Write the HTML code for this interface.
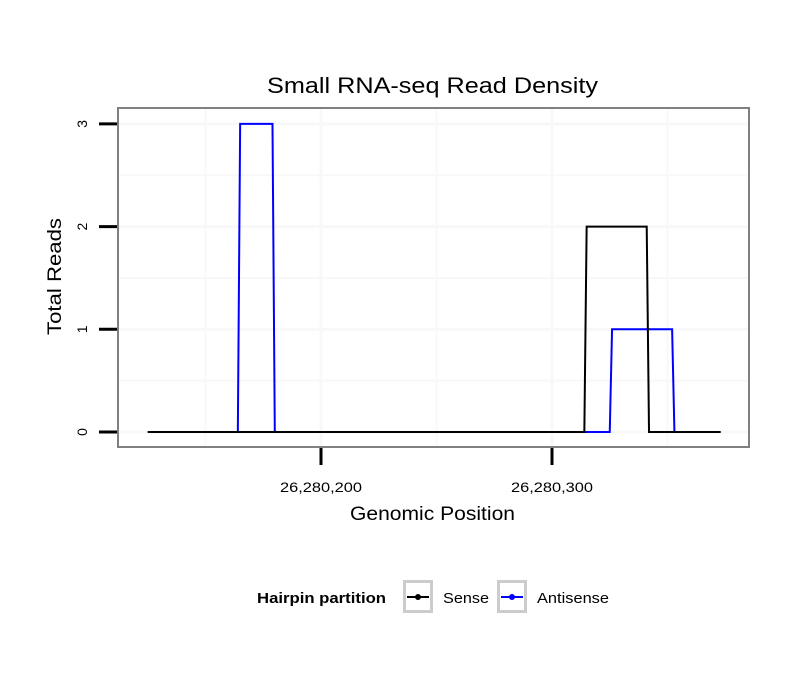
<!DOCTYPE html>
<html><head><meta charset="utf-8"><style>
body{margin:0;background:#fff;font-family:"Liberation Sans",sans-serif;}
svg text{font-family:"Liberation Sans",sans-serif;}
</style></head><body>
<svg width="810" height="690" viewBox="0 0 810 690">
<rect width="810" height="690" fill="#fff"/>
<text x="267" y="93" font-size="22" textLength="331" lengthAdjust="spacingAndGlyphs">Small RNA-seq Read Density</text>
<g id="grid"></g>
<g id="series"></g>
<rect x="118" y="108" width="631" height="339" fill="none" stroke="#808080" stroke-width="2"/>
<g id="axes"></g>
<text x="350" y="520" font-size="19" textLength="165" lengthAdjust="spacingAndGlyphs">Genomic Position</text>
<text transform="translate(61,335) rotate(-90)" font-size="19" textLength="117" lengthAdjust="spacingAndGlyphs">Total Reads</text>
<g>
<text x="257" y="603" font-size="15" font-weight="bold" textLength="129" lengthAdjust="spacingAndGlyphs">Hairpin partition</text>
<g>
<rect x="404.5" y="581.5" width="27" height="30" fill="#fff" stroke="#ccc" stroke-width="3"/>
<line x1="407" y1="597" x2="429" y2="597" stroke="#000" stroke-width="2"/>
<circle cx="418" cy="597" r="3" fill="#000"/>
<text x="443" y="603" font-size="15" textLength="46" lengthAdjust="spacingAndGlyphs">Sense</text>
</g>
<g>
<rect x="498.5" y="581.5" width="27" height="30" fill="#fff" stroke="#ccc" stroke-width="3"/>
<line x1="501" y1="597" x2="523" y2="597" stroke="#00f" stroke-width="2"/>
<circle cx="512" cy="597" r="3" fill="#00f"/>
<text x="537" y="603" font-size="15" textLength="72" lengthAdjust="spacingAndGlyphs">Antisense</text>
</g>
</g>
</svg>
<script>
const xTicks=[200,300];
const xTickLabels=["26,280,200","26,280,300"];
const xMinor=[150,250,350];
const yTicks=[0,1,2,3];
const yMinor=[0.5,1.5,2.5];
const senseX=[125,314,315,341,342,373];
const senseY=[0,0,2,2,0,0];
const antiX=[125,164,165,179,180,325,326,352,353,373];
const antiY=[0,0,3,3,0,0,1,1,0,0];
const xs=v=>321+(v-200)*2.31;
const ys=v=>432-v*102.7;
const NS="http://www.w3.org/2000/svg";
function mk(t,a,p){const e=document.createElementNS(NS,t);for(const k in a)e.setAttribute(k,a[k]);p.appendChild(e);return e;}
const grid=document.getElementById('grid'),ser=document.getElementById('series'),ax=document.getElementById('axes');
xMinor.concat(xTicks).forEach(v=>{const l=mk('line',{x1:xs(v),x2:xs(v),y1:108,y2:447,stroke:'#f8f8f8','stroke-width':xTicks.includes(v)?3:2},grid);

});
yMinor.concat(yTicks).forEach(v=>{const l=mk('line',{x1:118,x2:749,y1:ys(v),y2:ys(v),stroke:'#f8f8f8','stroke-width':yTicks.includes(v)?3:2},grid);

});
function line(X,Y,c,name){const p=mk('polyline',{points:X.map((x,i)=>xs(x)+','+ys(Y[i])).join(' '),fill:'none',stroke:c,'stroke-width':2},ser);

}
line(antiX,antiY,'#00f','antisense-line');
line(senseX,senseY,'#000','sense-line');
xTicks.forEach((v,i)=>{const t=mk('line',{x1:xs(v),x2:xs(v),y1:448,y2:465,stroke:'#000','stroke-width':3},ax);


const l=mk('text',{x:xs(v)-41,y:492,'font-size':14,textLength:82,lengthAdjust:'spacingAndGlyphs'},ax);l.textContent=xTickLabels[i];

});
yTicks.forEach(v=>{const t=mk('line',{x1:99,x2:117,y1:ys(v),y2:ys(v),stroke:'#000','stroke-width':3},ax);


const l=mk('text',{transform:`translate(87,${ys(v)}) rotate(-90)`,'font-size':14,'text-anchor':'middle'},ax);l.textContent=v;

});
</script>
</body></html>
